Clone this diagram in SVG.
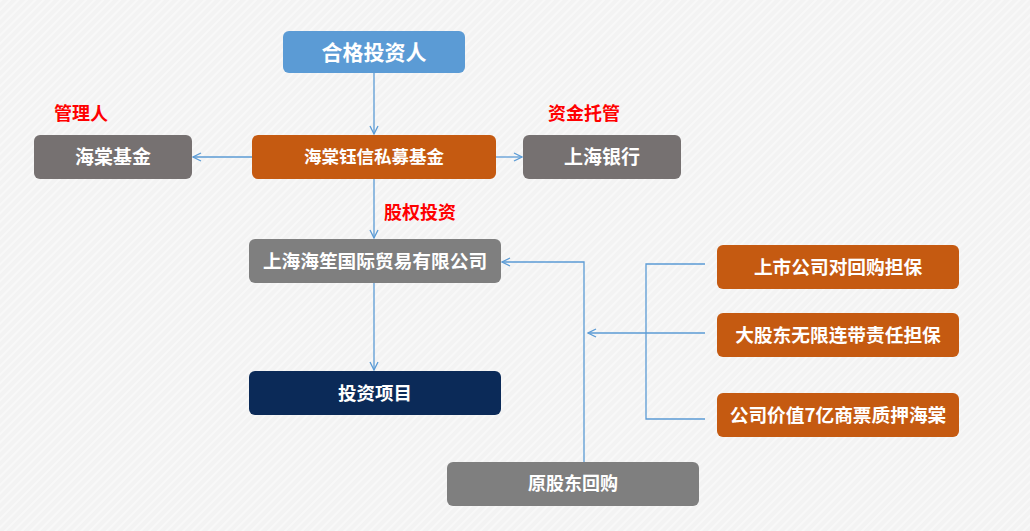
<svg xmlns="http://www.w3.org/2000/svg" width="1030" height="531" viewBox="0 0 1030 531">
<defs>
<pattern id="bg" width="6" height="6" patternUnits="userSpaceOnUse" patternTransform="rotate(-45)">
<rect width="6" height="6" fill="#f3f3f3"/>
<rect width="6" height="2" fill="#f8f8f8"/>
</pattern>
<marker id="arr" viewBox="0 0 10 10" refX="9" refY="5" markerWidth="10" markerHeight="10" markerUnits="userSpaceOnUse" orient="auto">
<path d="M1,1 L9,5 L1,9" fill="none" stroke="#5b9bd5" stroke-width="1.3"/>
</marker>
<style>
.t{font-family:"Noto Sans CJK SC","Noto Sans",sans-serif;font-weight:bold;fill:#fff;text-anchor:middle}
.r{font-family:"Noto Sans CJK SC","Noto Sans",sans-serif;font-weight:bold;fill:#ff0000;font-size:18px}
.c{fill:none;stroke:#5b9bd5;stroke-width:1.3}
</style>
</defs>
<rect width="1030" height="531" fill="url(#bg)"/>
<g id="connectors">
<line class="c" x1="374" y1="73" x2="374" y2="134" marker-end="url(#arr)"/>
<line class="c" x1="252" y1="157" x2="193" y2="157" marker-end="url(#arr)"/>
<line class="c" x1="496" y1="157" x2="522" y2="157" marker-end="url(#arr)"/>
<line class="c" x1="374" y1="179" x2="374" y2="238" marker-end="url(#arr)"/>
<line class="c" x1="374" y1="283" x2="374" y2="370" marker-end="url(#arr)"/>
<polyline class="c" points="584,462 584,262 502,262" marker-end="url(#arr)"/>
<polyline class="c" points="705,264 646,264 646,419 705,419"/>
<line class="c" x1="705" y1="333" x2="646" y2="333"/>
<line class="c" x1="646" y1="333" x2="588" y2="333" marker-end="url(#arr)"/>
</g>
<g id="label-manager"><text class="r" x="54" y="120">管理人</text></g>
<g id="label-custody"><text class="r" x="548" y="120">资金托管</text></g>
<g id="label-equity"><text class="r" x="384" y="219">股权投资</text></g>
<g id="n-investor"><rect x="283" y="31" width="182" height="42" rx="6" fill="#5b9bd5"/><text class="t" x="374" y="60" font-size="21">合格投资人</text></g>
<g id="n-fund"><rect x="252" y="135" width="244" height="44" rx="6" fill="#c55a11"/><text class="t" x="374" y="163" font-size="17.5">海棠钰信私募基金</text></g>
<g id="n-manager"><rect x="34" y="135" width="158" height="44" rx="6" fill="#767171"/><text class="t" x="113" y="164" font-size="19">海棠基金</text></g>
<g id="n-bank"><rect x="523" y="135" width="158" height="44" rx="6" fill="#767171"/><text class="t" x="602" y="164" font-size="19">上海银行</text></g>
<g id="n-company"><rect x="249" y="239" width="252" height="44" rx="6" fill="#7f7f7f"/><text class="t" x="375" y="268" font-size="18.7">上海海笙国际贸易有限公司</text></g>
<g id="n-project"><rect x="249" y="371" width="252" height="44" rx="6" fill="#0b2a58"/><text class="t" x="375" y="400" font-size="18.5">投资项目</text></g>
<g id="n-buyback"><rect x="447" y="462" width="252" height="44" rx="6" fill="#7f7f7f"/><text class="t" x="573" y="490" font-size="18">原股东回购</text></g>
<g id="n-g1"><rect x="717" y="245" width="242" height="44" rx="6" fill="#c55a11"/><text class="t" x="838" y="274" font-size="18.7">上市公司对回购担保</text></g>
<g id="n-g2"><rect x="717" y="313" width="242" height="44" rx="6" fill="#c55a11"/><text class="t" x="838" y="342" font-size="18.7">大股东无限连带责任担保</text></g>
<g id="n-g3"><rect x="717" y="393" width="242" height="44" rx="6" fill="#c55a11"/><text class="t" x="838" y="422" font-size="18.7">公司价值7亿商票质押海棠</text></g>
</svg>
